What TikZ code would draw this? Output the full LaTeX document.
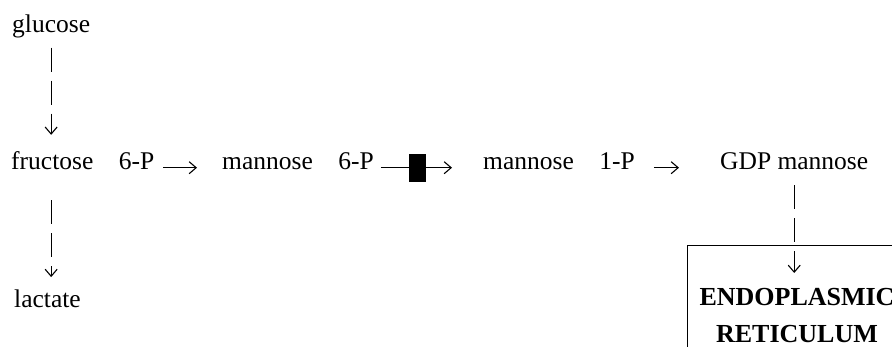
\documentclass[tikz,border=0pt]{standalone}
\usepackage{fontspec}
\setmainfont{Liberation Serif}
\usetikzlibrary{arrows.meta,positioning}
\tikzset{
  metab/.style={font=\fontsize{25.5}{37}\selectfont, inner sep=0pt, anchor=base west},
  erlabel/.style={font=\fontsize{26}{37}\selectfont\bfseries, align=center, inner sep=0pt, anchor=north},
  rxn/.style={-{Straight Barb[length=7pt,width=12pt]}, line width=1.1pt},
  flux/.style={rxn, dash pattern=on 24pt off 9pt},
  block/.style={fill=black, minimum width=17pt, minimum height=28pt, inner sep=0pt},
  erbox/.style={draw, line width=1.1pt, anchor=north west, minimum width=260pt, minimum height=140pt, inner sep=0pt}
}
\begin{document}
\begin{tikzpicture}[x=1pt,y=-1pt]
\useasboundingbox (0,0) rectangle (892,347);
\clip (0,0) rectangle (892,347);
% metabolites
\node[metab] (glc) at (12,33) {glucose};
\node[metab] (f6p) at (11,170) {fructose\quad 6-P};
\node[metab] (lac) at (14,308) {lactate};
\node[metab] (m6p) at (222,170) {mannose\quad 6-P};
\node[metab] (m1p) at (483,170) {mannose\quad 1-P};
\node[metab] (gdpm) at (720,170) {GDP mannose};
% endoplasmic reticulum
\node[erbox] (er) at (687,245) {};
\node[erlabel] (ertxt) at (797,288) {ENDOPLASMIC\\RETICULUM};
% glycolysis
\draw[flux, shorten <=9pt, shorten >=17pt] (glc.south) -- (glc.south |- f6p.north);
\draw[flux, shorten <=30pt, shorten >=13pt] (glc.south |- f6p.south) -- (glc.south |- lac.north);
% mannose route
\draw[rxn, shorten <=9pt, shorten >=25pt] (f6p.mid east) -- (m6p.mid west);
\draw[rxn, shorten <=7pt, shorten >=31pt] (m6p.mid east) -- node[block, pos=0.40] (pmi) {} (m1p.mid west);
\draw[rxn, shorten <=19pt, shorten >=41pt] (m1p.mid east) -- (gdpm.mid west);
\draw[flux, shorten <=15pt, shorten >=15pt] (gdpm.south) -- (gdpm.south |- ertxt.north);
\end{tikzpicture}
\end{document}
